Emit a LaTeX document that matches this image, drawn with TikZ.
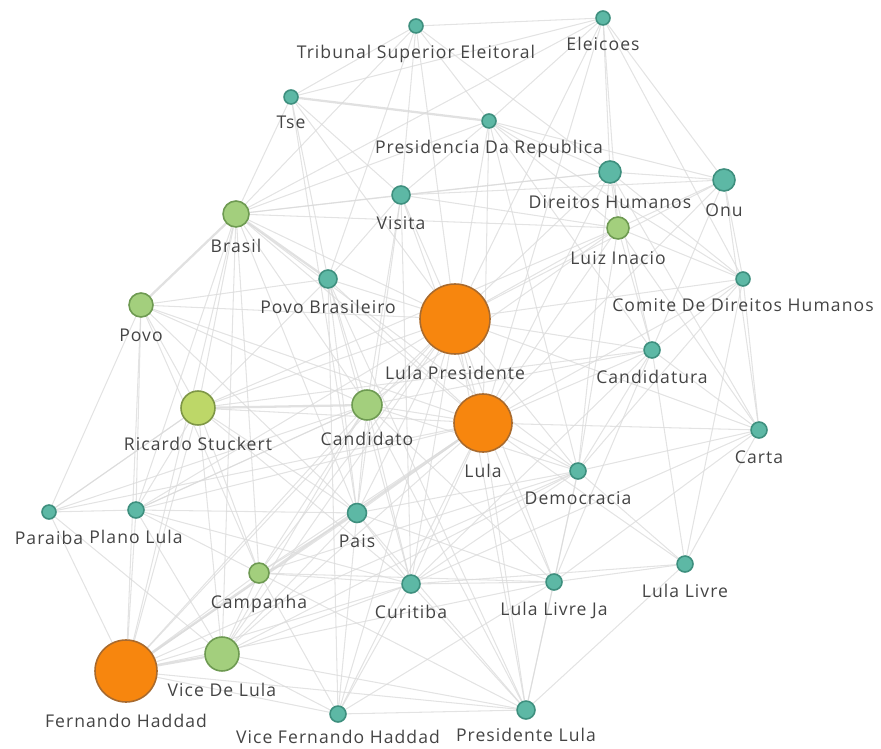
\documentclass[tikz,border=0pt]{standalone}
\usepackage{fontspec}
\setmainfont{Open Sans}[LetterSpace=6]
\usetikzlibrary{backgrounds}
\definecolor{tealfill}{HTML}{5DB8A5}
\definecolor{tealline}{HTML}{3E8F7E}
\definecolor{greenfill}{HTML}{A3CF7D}
\definecolor{greenline}{HTML}{6E9A52}
\definecolor{limefill}{HTML}{BDD768}
\definecolor{limeline}{HTML}{7E9646}
\definecolor{orangefill}{HTML}{F7860E}
\definecolor{orangeline}{HTML}{A86A2E}
\definecolor{labelgray}{HTML}{444444}
\definecolor{edgegray}{HTML}{DADADA}
\begin{document}
\begin{tikzpicture}[x=0.02cm,y=-0.02cm,
	vertex/.style={circle,inner sep=0pt,line width=0.9pt},
	teal/.style={vertex,fill=tealfill,draw=tealline},
	green/.style={vertex,fill=greenfill,draw=greenline},
	lime/.style={vertex,fill=limefill,draw=limeline},
	hub/.style={vertex,fill=orangefill,draw=orangeline},
	every label/.style={text=labelgray,font=\fontsize{10}{12}\selectfont,inner sep=1pt},
	label distance=0.19cm,
	edge/.style={draw=edgegray,line width=0.6pt,opacity=0.75},
	heavyedge/.style={draw=edgegray,line width=1.3pt,opacity=0.8}]
	\useasboundingbox (0,0) rectangle (881,749);
	% nodes
	\node[teal,minimum size=0.28cm,label=below:Tribunal Superior Eleitoral] (tri) at (416,26) {};
	\node[teal,minimum size=0.28cm,label=below:Eleicoes] (ele) at (603,18) {};
	\node[teal,minimum size=0.28cm,label=below:Tse] (tse) at (291,97) {};
	\node[teal,minimum size=0.28cm,label=below:Presidencia Da Republica] (pres) at (489,121) {};
	\node[teal,minimum size=0.44cm,label=below:Direitos Humanos] (dir) at (610,172) {};
	\node[teal,minimum size=0.44cm,label=below:Onu] (onu) at (724,180) {};
	\node[teal,minimum size=0.36cm,label=below:Visita] (vis) at (401,195) {};
	\node[green,minimum size=0.52cm,label=below:Brasil] (bra) at (236,214) {};
	\node[green,minimum size=0.44cm,label=below:Luiz Inacio] (luiz) at (618,228) {};
	\node[teal,minimum size=0.28cm,label=below:Comite De Direitos Humanos] (com) at (743,279) {};
	\node[teal,minimum size=0.36cm,label=below:Povo Brasileiro] (povb) at (328,279) {};
	\node[green,minimum size=0.48cm,label=below:Povo] (povo) at (141,305) {};
	\node[hub,minimum size=1.4cm,label=below:Lula Presidente] (lp) at (455,319) {};
	\node[teal,minimum size=0.32cm,label=below:Candidatura] (cand) at (652,350) {};
	\node[lime,minimum size=0.68cm,label=below:Ricardo Stuckert] (ric) at (198,408) {};
	\node[green,minimum size=0.6cm,label=below:Candidato] (cdt) at (367,405) {};
	\node[hub,minimum size=1.16cm,label=below:Lula] (lula) at (483,423) {};
	\node[teal,minimum size=0.32cm,label=below:Carta] (carta) at (759,430) {};
	\node[teal,minimum size=0.32cm,label=below:Democracia] (dem) at (578,471) {};
	\node[teal,minimum size=0.28cm,label=below:Paraiba] (par) at (49,512) {};
	\node[teal,minimum size=0.32cm,label=below:Plano Lula] (plano) at (136,510) {};
	\node[teal,minimum size=0.38cm,label=below:Pais] (pais) at (357,513) {};
	\node[green,minimum size=0.4cm,label=below:Campanha] (camp) at (259,573) {};
	\node[teal,minimum size=0.36cm,label=below:Curitiba] (cur) at (411,584) {};
	\node[teal,minimum size=0.32cm,label=below:Lula Livre Ja] (llj) at (554,582) {};
	\node[teal,minimum size=0.32cm,label=below:Lula Livre] (ll) at (685,564) {};
	\node[hub,minimum size=1.24cm,label=below:Fernando Haddad] (fh) at (126,671) {};
	\node[green,minimum size=0.68cm,label=below:Vice De Lula] (vdl) at (222,654) {};
	\node[teal,minimum size=0.32cm,label={[label distance=0.1cm]below:Vice Fernando Haddad}] (vfh) at (338,714) {};
	\node[teal,minimum size=0.36cm,label={[label distance=0.13cm]below:Presidente Lula}] (pl) at (526,710) {};
	% connections
	\begin{scope}[on background layer]
		\foreach \a/\b in {tse/tri,tse/bra,tse/povb,tse/lp,tse/vis,tse/ele,tse/pais,
			tri/ele,tri/pres,tri/lp,tri/bra,tri/dir,tri/vis,tri/povb,
			ele/pres,ele/dir,ele/onu,ele/com,ele/lp,ele/luiz,ele/bra,ele/lula,
			pres/dir,pres/onu,pres/lp,pres/lula,pres/vis,pres/bra,pres/luiz,pres/cand,pres/dem,pres/com,
			dir/onu,dir/com,dir/luiz,dir/lp,dir/lula,dir/cand,dir/vis,dir/bra,dir/carta,dir/dem,
			onu/com,onu/luiz,onu/cand,onu/carta,onu/lp,onu/vis,onu/lula,
			vis/povb,vis/bra,vis/lp,vis/luiz,vis/cdt,vis/lula,vis/pais,vis/cur,
			bra/ric,bra/lp,bra/cdt,bra/lula,bra/camp,bra/vdl,bra/fh,bra/luiz,bra/plano,bra/pais,bra/dem,
			luiz/lp,luiz/lula,luiz/cand,luiz/com,luiz/dem,luiz/carta,luiz/cdt,luiz/ric,
			com/cand,com/carta,com/lula,com/lp,com/dem,com/ll,
			povb/lp,povb/ric,povb/cdt,povb/lula,povb/pais,povb/povo,povb/cur,povb/vfh,povb/pl,
			povo/ric,povo/plano,povo/lp,povo/cdt,povo/camp,povo/fh,povo/par,povo/lula,povo/pais,
			lp/lula,lp/cdt,lp/ric,lp/cand,lp/dem,lp/carta,lp/pais,lp/camp,lp/cur,lp/fh,lp/vdl,lp/llj,lp/pl,lp/plano,lp/vfh,
			cand/lula,cand/carta,cand/dem,cand/ll,cand/llj,cand/cdt,cand/ric,cand/cur,
			ric/vdl,ric/camp,ric/plano,ric/fh,ric/lula,ric/pais,ric/cur,ric/par,
			cdt/lula,cdt/pais,cdt/camp,cdt/vdl,cdt/fh,cdt/cur,cdt/dem,cdt/pl,cdt/llj,cdt/plano,
			lula/dem,lula/carta,lula/pais,lula/camp,lula/cur,lula/llj,lula/pl,lula/vdl,lula/vfh,lula/plano,lula/ll,lula/par,
			carta/dem,carta/ll,carta/llj,carta/cur,
			dem/llj,dem/ll,dem/cur,dem/pais,dem/camp,dem/fh,dem/vdl,dem/pl,
			par/plano,par/fh,par/vdl,par/ric,par/cdt,
			plano/fh,plano/vdl,plano/camp,plano/pais,plano/cdt,plano/cur,
			pais/vfh,pais/cur,pais/camp,pais/vdl,pais/fh,pais/pl,pais/llj,
			camp/cur,camp/vdl,camp/fh,camp/pl,camp/llj,camp/vfh,
			cur/llj,cur/pl,cur/vdl,cur/fh,cur/vfh,cur/ll,
			llj/pl,llj/ll,llj/vfh,llj/fh,
			ll/pl,fh/vfh,fh/pl,vdl/vfh,vdl/pl,vfh/pl}
			\draw[edge] (\a) -- (\b);
		\foreach \a/\b in {tse/pres,bra/povb,bra/povo,ric/cdt,lula/fh,fh/vdl}
			\draw[heavyedge] (\a) -- (\b);
	\end{scope}
\end{tikzpicture}
\end{document}
